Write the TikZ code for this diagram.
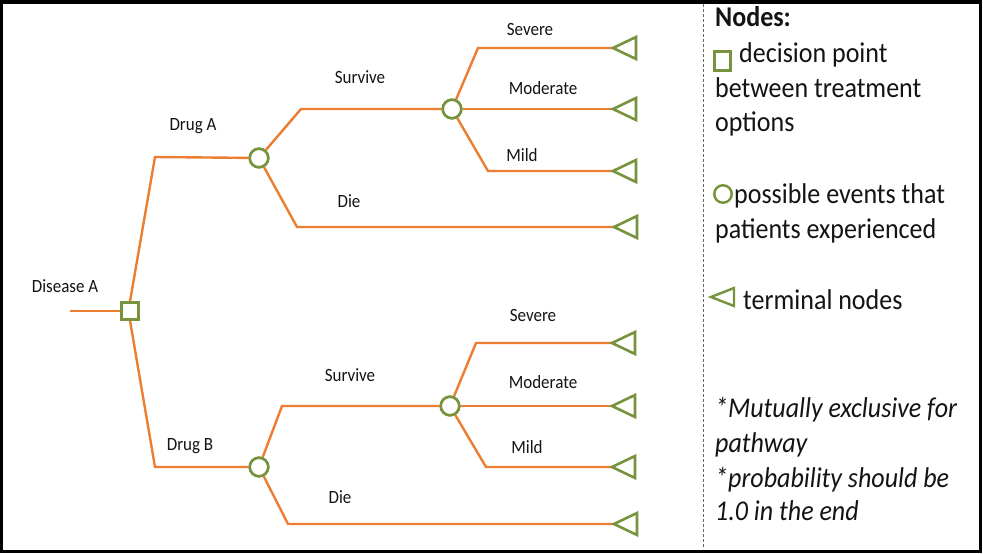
\documentclass[tikz,border=0pt]{standalone}
\usepackage{fontspec}
\usepackage{graphicx}
\setmainfont{Carlito}
\definecolor{org}{HTML}{ED7D31}
\definecolor{grn}{HTML}{77933C}
\definecolor{txt}{HTML}{141414}
\newcommand{\vstr}[1]{\scalebox{1}[1.1]{#1}}
\begin{document}
\begin{tikzpicture}[x=1pt,y=-1pt,
  br/.style={draw=org,line width=2.4pt},
  dec/.style={draw=grn,line width=2.6pt,fill=white,minimum size=16.5pt,inner sep=0pt},
  chance/.style={circle,draw=grn,line width=2.6pt,fill=white,minimum size=18.5pt,inner sep=0pt},
  term/.style={draw=grn,line width=2.6pt,line join=miter},
  lbl/.style={font=\fontsize{17}{20}\selectfont,text=txt,anchor=center,inner sep=0pt},
  leg/.style={font=\fontsize{26}{30}\selectfont,text=txt,anchor=base west,inner sep=0pt}]
\useasboundingbox (0,0) rectangle (983,554);
\fill[white] (0,0) rectangle (983,554);
\draw[line width=3.5pt] (1.5,2) rectangle (980.5,551.5);
\draw[gray!80!black,line width=1pt,dash pattern=on 3pt off 2pt] (703,4) -- (703,549);

% nodes
\coordinate (start) at (70,311);
\node[dec] (sq) at (130,311) {};
\node[chance] (cA) at (259,158) {};
\node[chance] (cB) at (259,467) {};
\node[chance] (sA) at (452,109) {};
\node[chance] (sB) at (450,406) {};
\coordinate (t1) at (613,48);
\coordinate (t2) at (613,109);
\coordinate (t3) at (613,171);
\coordinate (t4) at (614,227);
\coordinate (t5) at (612,343);
\coordinate (t6) at (612,406);
\coordinate (t7) at (612,467);
\coordinate (t8) at (614,524);

% branches
\draw[br] (start) -- (sq.west);
\draw[br] (sq.north) -- (155,157) -- (cA);
\draw[br] (sq.south) -- (155,467) -- (cB);
\draw[br] (cA) -- (301,109) -- (sA);
\draw[br] (cA) -- (297,227) -- (t4);
\draw[br] (sA) -- (478,48) -- (t1);
\draw[br] (sA) -- (t2);
\draw[br] (sA) -- (488,171) -- (t3);
\draw[br] (cB) -- (282,406) -- (sB);
\draw[br] (cB) -- (288,524) -- (t8);
\draw[br] (sB) -- (476,343) -- (t5);
\draw[br] (sB) -- (t6);
\draw[br] (sB) -- (486,467) -- (t7);

% redraw nodes on top
\node[dec] at (sq) {};
\node[chance] at (cA) {};
\node[chance] at (cB) {};
\node[chance] at (sA) {};
\node[chance] at (sB) {};
\foreach \t in {t1,t2,t3,t4,t5,t6,t7,t8}
  \draw[term] (\t) -- ++(23,-11) -- ++(0,22) -- cycle;

% labels
\node[lbl] (l0) at (65,286) {\vstr{Disease A}};
\node[lbl] (l1) at (193,126) {\vstr{Drug A}};
\node[lbl] (l2) at (360,77) {\vstr{Survive}};
\node[lbl] (l3) at (349,201) {\vstr{Die}};
\node[lbl] (l4) at (530,29) {\vstr{Severe}};
\node[lbl] (l5) at (543,88) {\vstr{Moderate}};
\node[lbl] (l6) at (522,155) {\vstr{Mild}};
\node[lbl] (l7) at (190,446) {\vstr{Drug B}};
\node[lbl] (l8) at (350,375) {\vstr{Survive}};
\node[lbl] (l9) at (340,497) {\vstr{Die}};
\node[lbl] (l10) at (533,315) {\vstr{Severe}};
\node[lbl] (l11) at (543,382) {\vstr{Moderate}};
\node[lbl] (l12) at (527,447) {\vstr{Mild}};

% legend
\node[leg,font=\fontsize{26}{30}\selectfont\bfseries] (g0) at (715,27) {\vstr{Nodes:}};
\node[dec,minimum width=16.5pt,minimum height=19pt] (gs) at (722.5,61) {};
\node[leg] (g1) at (739,62) {\vstr{decision point}};
\node[leg] (g2) at (715,97) {\vstr{between treatment}};
\node[leg] (g3) at (715,131) {\vstr{options}};
\node[chance,minimum size=17.5pt,line width=2.4pt] (gc) at (723,194) {};
\node[leg] (g4) at (734,203) {\vstr{possible events that}};
\node[leg] (g5) at (715,238) {\vstr{patients experienced}};
\coordinate (gt) at (711,297);
\draw[term,line width=2.4pt] (gt) -- ++(23,-9) -- ++(0,18) -- cycle;
\node[leg] (g6) at (743,309) {\vstr{terminal nodes}};
\node[leg,font=\fontsize{26}{30}\selectfont\itshape] (g7) at (715,417) {\vstr{*Mutually exclusive for}};
\node[leg,font=\fontsize{26}{30}\selectfont\itshape] (g8) at (715,452) {\vstr{pathway}};
\node[leg,font=\fontsize{26}{30}\selectfont\itshape] (g9) at (715,487) {\vstr{*probability should be}};
\node[leg,font=\fontsize{26}{30}\selectfont\itshape] (g10) at (715,520) {\vstr{1.0 in the end}};
\end{tikzpicture}
\end{document}
